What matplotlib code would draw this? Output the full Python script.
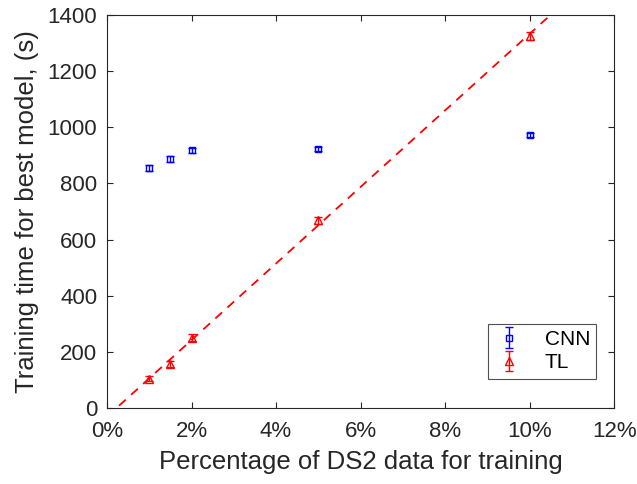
import numpy as np
import matplotlib.pyplot as plt
from matplotlib.ticker import FuncFormatter

plt.rcParams['font.family'] = ['Liberation Sans', 'DejaVu Sans']

# data (percentage of DS2 used for training)
pct = [1, 1.5, 2, 5, 10]
cnn_time = [855, 888, 918, 922, 973]
cnn_err = [10, 10, 10, 8, 8]
tl_time = [105, 157, 250, 668, 1325]
tl_err = [10, 10, 12, 12, 15]

fig = plt.figure(figsize=(6.37, 4.84), dpi=100)
ax = fig.add_axes([0.168, 0.157, 0.796, 0.812])

ax.errorbar(pct, cnn_time, yerr=cnn_err, fmt='s', color='blue', mfc='none',
            ms=5, mew=1, elinewidth=1, capsize=3, label='CNN')
ax.errorbar(pct, tl_time, yerr=tl_err, fmt='^', color='red', mfc='none',
            ms=6, mew=1, elinewidth=1, capsize=3, label='TL')

# linear fit through TL points
k, b = np.polyfit(pct, tl_time, 1)
xs = np.linspace(0, 12, 200)
ax.plot(xs, k * xs + b, '--', color='red', lw=1.3, dashes=(5, 4))

ax.set_xlim(0, 12)
ax.set_ylim(0, 1400)
ax.set_xticks(np.arange(0, 13, 2))
ax.set_yticks(np.arange(0, 1401, 200))
ax.xaxis.set_major_formatter(FuncFormatter(lambda v, p: f'{v:g}%'))
ax.tick_params(direction='in', top=True, right=True, labelsize=16,
               colors='#262626', length=4)
ax.tick_params(axis='x', pad=9)
ax.tick_params(axis='y', pad=7)
for s in ax.spines.values():
    s.set_color('#262626')
    s.set_linewidth(0.8)

ax.set_xlabel('Percentage of DS2 data for training', fontsize=18.5,
              color='#262626', labelpad=6)
ax.set_ylabel('Training time for best model, (s)', fontsize=18.5,
              color='#262626', labelpad=6)

leg = ax.legend(loc='lower right', fontsize=15, fancybox=False, edgecolor='#262626',
                bbox_to_anchor=(0.965, 0.075), borderaxespad=0, handlelength=1.4,
                handletextpad=1.0, borderpad=0.3, labelspacing=0.2)
leg.get_frame().set_linewidth(0.8)

fig.savefig('out.png', dpi=100)
